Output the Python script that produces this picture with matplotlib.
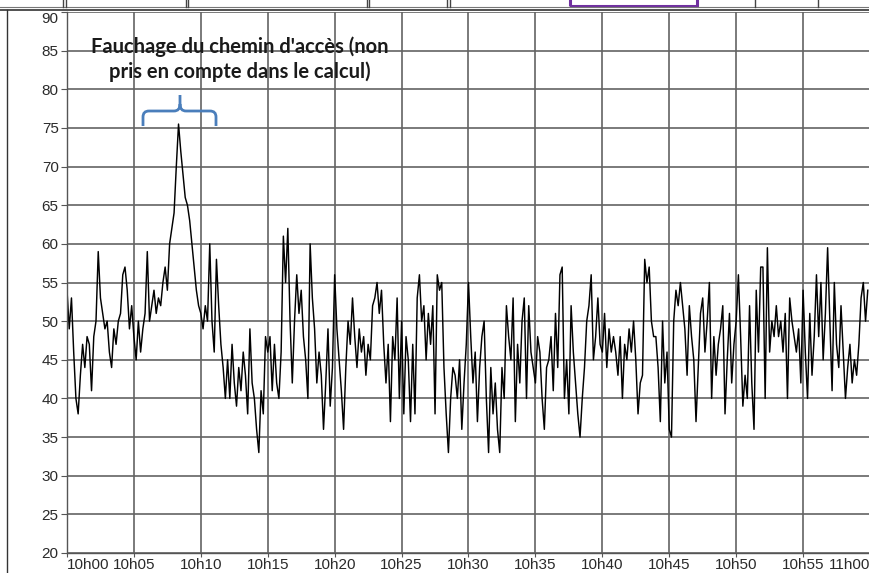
import matplotlib
matplotlib.use("Agg")
import matplotlib.pyplot as plt
from matplotlib.path import Path
from matplotlib.patches import PathPatch, Rectangle
from matplotlib.lines import Line2D

# Sound level (dB(A)), one value every 10 s from 10h00 to 11h00 (6 per minute)
levels = [
    54, 49, 53, 46, 40, 38,   43, 47, 44, 48, 47, 41,   48, 50, 59, 53, 51, 49,
    50, 46, 44, 49, 47, 50,   51, 56, 57, 54, 49, 52,   48, 45, 50, 46, 49, 51,
    59, 50, 52, 54, 51, 53,   52, 55, 57, 54, 60, 62,   64, 70, 75.5, 72, 69, 66,
    65, 63, 60, 57, 54, 52,   51, 49, 52, 50, 60, 50,   46, 58, 52, 47, 44, 40,
    45, 40, 47, 42, 39, 44,   41, 46, 43, 38, 49, 42,   40, 36, 33, 41, 38, 48,
    46, 48, 41, 47, 42, 40,   46, 61, 55, 62, 50, 42,   50, 56, 51, 54, 48, 45,
    40, 60, 53, 49, 42, 46,   43, 36, 42, 49, 39, 44,   56, 49, 45, 41, 36, 44,
    50, 47, 53, 48, 44, 49,   46, 48, 43, 47, 45, 52,   53, 55, 51, 54, 47, 42,
    47, 37, 48, 45, 53, 40,   50, 38, 48, 45, 37, 47,   38, 53, 56, 50, 52, 45,
    51, 47, 52, 38, 56, 54,   55, 44, 38, 33, 40, 44,   43, 40, 45, 36, 42, 47,
    55, 48, 42, 46, 37, 44,   48, 50, 40, 33, 44, 38,   42, 36, 33, 44, 40, 52,
    48, 45, 53, 37, 47, 42,   50, 53, 40, 52, 46, 44,   42, 48, 46, 40, 36, 44,
    45, 48, 41, 51, 44, 56,   57, 40, 45, 38, 52, 46,   42, 38, 35, 40, 44, 50,
    52, 56, 45, 48, 53, 47,   46, 51, 44, 49, 46, 48,   46, 43, 48, 40, 47, 45,
    49, 46, 50, 45, 38, 42,   43, 58, 55, 57, 50, 48,   48, 44, 37, 50, 42, 46,
    36, 35, 50, 54, 52, 55,   52, 49, 43, 52, 48, 45,   37, 44, 51, 53, 46, 50,
    55, 40, 48, 43, 47, 49,   52, 38, 45, 51, 42, 47,   50, 56, 48, 39, 43, 40,
    52, 42, 36, 54, 46, 57,   57, 40, 59.5, 46, 50, 48,  52, 48, 50, 46, 51, 40,
    53, 50, 48, 46, 49, 42,   54, 46, 40, 51, 43, 48,   56, 48, 55, 45, 51, 59.5,
    50, 41, 55, 47, 44, 52,   46, 40, 44, 47, 42, 45,   43, 47, 53, 55, 50, 54,
]
minutes = [i / 6 for i in range(len(levels))]

x_ticks = [0, 5, 10, 15, 20, 25, 30, 35, 40, 45, 50, 55, 60]
x_labels = ["10h00", "10h05", "10h10", "10h15", "10h20", "10h25", "10h30",
            "10h35", "10h40", "10h45", "10h50", "10h55", "11h00"]
y_ticks = [20, 25, 30, 35, 40, 45, 50, 55, 60, 65, 70, 75, 80, 85, 90]

annotation = "Fauchage du chemin d'accès (non\npris en compte dans le calcul)"

W, H = 870, 573
fig = plt.figure(figsize=(W / 100, H / 100), dpi=100)
fig.patch.set_facecolor("white")

def fx(x):
    return x / W

def fy(y):
    return 1 - y / H

ax = fig.add_axes([fx(67), fy(553), fx(870) - fx(67), fy(12) - fy(553)])
ax.plot(minutes, levels, color="black", lw=1.05)
ax.set_xlim(0, 60)
ax.set_ylim(20, 90)
ax.set_xticks(x_ticks)
ax.set_xticklabels(x_labels)
ax.set_yticks(y_ticks)
ax.grid(True, color="#636363", lw=1.2)
ax.set_axisbelow(True)
for s in ["top", "right"]:
    ax.spines[s].set_visible(False)
for s in ["left", "bottom"]:
    ax.spines[s].set_color("#555555")
    ax.spines[s].set_linewidth(1.0)
ax.tick_params(axis="both", width=0.8, color="#555555",
               labelsize=11, labelcolor="#2a2a2a")
ax.tick_params(axis="y", length=4, pad=2)
ax.tick_params(axis="x", length=3, pad=0.5)
for lab in ax.get_xticklabels() + ax.get_yticklabels():
    lab.set_family("Liberation Sans")
xl = ax.get_xticklabels()
xl[0].set_ha("left")
xl[-1].set_ha("right")
yl = ax.get_yticklabels()
yl[-1].set_va("top")

# annotation text
fig.text(fx(240), fy(59), annotation, ha="center", va="center",
         family="Lato", fontweight="bold", fontsize=14.5, color="#1a1a1a",
         linespacing=1.3)

# brace
verts = [(143, 126), (143, 117), (143, 111), (149, 111), (174, 111),
         (180, 111), (180, 104), (180, 95),
         (180, 104), (180, 111), (186, 111), (210, 111),
         (216, 111), (216, 117), (216, 126)]
codes = [Path.MOVETO, Path.LINETO, Path.CURVE3, Path.CURVE3, Path.LINETO,
         Path.CURVE3, Path.CURVE3, Path.LINETO,
         Path.MOVETO, Path.CURVE3, Path.CURVE3, Path.LINETO,
         Path.CURVE3, Path.CURVE3, Path.LINETO]
path = Path([(fx(a), fy(b)) for a, b in verts], codes)
fig.add_artist(PathPatch(path, transform=fig.transFigure, fill=False,
                         edgecolor="#4A7EBB", lw=2))

# spreadsheet frame pieces at top/left
fig.add_artist(Line2D([0, 1], [fy(10), fy(10)], transform=fig.transFigure,
                      color="#333333", lw=1.2))
fig.add_artist(Line2D([0, 1], [fy(7), fy(7)], transform=fig.transFigure,
                      color="#777777", lw=0.8))
fig.add_artist(Line2D([fx(7), fx(7)], [0, fy(10)], transform=fig.transFigure,
                      color="#333333", lw=1.0))
for xb in [63, 66, 186, 188, 367, 369, 447, 450, 755, 818]:
    fig.add_artist(Line2D([fx(xb), fx(xb)], [fy(7), 1], transform=fig.transFigure,
                          color="#444444", lw=1.0))
fig.add_artist(Rectangle((fx(570), fy(6)), fx(697) - fx(570), 0.02,
                         transform=fig.transFigure, fill=False,
                         edgecolor="#7030A0", lw=2.2))

fig.savefig("out.png", dpi=100)
